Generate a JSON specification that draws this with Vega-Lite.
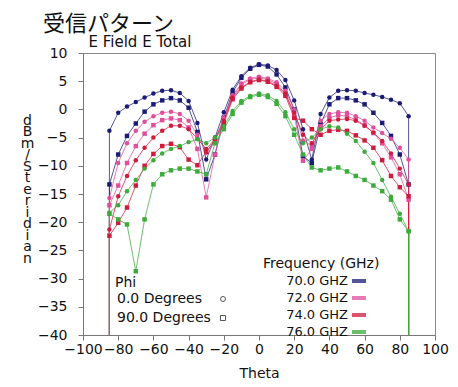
{
  "$schema": "https://vega.github.io/schema/vega-lite/v6.json",
  "width": 352,
  "height": 282,
  "autosize": {"type": "none"},
  "padding": {"left": 83, "top": 53, "right": 23, "bottom": 52},
  "background": "white",
  "title": {
    "text": "受信パターン",
    "anchor": "start",
    "frame": "group",
    "dx": -40,
    "dy": 2,
    "offset": 0,
    "font": "Noto Sans CJK JP",
    "fontSize": 22,
    "fontWeight": "normal",
    "color": "#111"
  },
  "data": {
    "values": [
      {"n": 0, "t": -85, "b0": -60, "b9": -60, "p0": -60, "p9": -60, "r0": -60, "r9": -60, "g0": -60, "g9": -60},
      {"n": 1, "t": -85, "b0": -3.8, "b9": -13.3, "p0": -15.7, "p9": -17.0, "r0": -21.3, "r9": -22.4, "g0": -18.3, "g9": -18.5},
      {"n": 2, "t": -80, "b0": -0.6, "b9": -8.0, "p0": -9.5, "p9": -13.5, "r0": -15.4, "r9": -20.1, "g0": -17.0, "g9": -19.5},
      {"n": 3, "t": -75, "b0": 0.5, "b9": -4.7, "p0": -6.0, "p9": -9.5, "r0": -11.8, "r9": -17.4, "g0": -14.5, "g9": -20.4},
      {"n": 4, "t": -70, "b0": 1.3, "b9": -2.5, "p0": -3.8, "p9": -6.5, "r0": -9.0, "r9": -13.5, "g0": -12.5, "g9": -28.7},
      {"n": 5, "t": -65, "b0": 2.1, "b9": -0.4, "p0": -2.2, "p9": -4.3, "r0": -6.8, "r9": -10.0, "g0": -10.5, "g9": -19.5},
      {"n": 6, "t": -60, "b0": 2.8, "b9": 0.9, "p0": -1.2, "p9": -2.8, "r0": -5.0, "r9": -7.9, "g0": -9.0, "g9": -13.3},
      {"n": 7, "t": -55, "b0": 3.3, "b9": 1.6, "p0": -0.6, "p9": -1.9, "r0": -3.8, "r9": -6.5, "g0": -7.8, "g9": -11.5},
      {"n": 8, "t": -50, "b0": 3.4, "b9": 2.0, "p0": -0.4, "p9": -1.6, "r0": -2.9, "r9": -6.1, "g0": -7.0, "g9": -10.8},
      {"n": 9, "t": -45, "b0": 2.9, "b9": 1.6, "p0": -0.8, "p9": -1.9, "r0": -2.9, "r9": -6.7, "g0": -6.5, "g9": -10.5},
      {"n": 10, "t": -40, "b0": 1.5, "b9": 0.3, "p0": -2.0, "p9": -3.2, "r0": -3.5, "r9": -8.9, "g0": -5.8, "g9": -10.5},
      {"n": 11, "t": -35, "b0": -2.4, "b9": -4.0, "p0": -4.5, "p9": -7.0, "r0": -5.2, "r9": -9.9, "g0": -5.3, "g9": -11.0},
      {"n": 12, "t": -30, "b0": -8.9, "b9": -12.4, "p0": -7.7, "p9": -15.6, "r0": -7.0, "r9": -7.5, "g0": -6.0, "g9": -11.5},
      {"n": 13, "t": -25, "b0": -5.0, "b9": -8.0, "p0": -5.5, "p9": -8.0, "r0": -5.3, "r9": -5.5, "g0": -5.0, "g9": -6.0},
      {"n": 14, "t": -20, "b0": -0.5, "b9": -1.5, "p0": -1.5, "p9": -2.0, "r0": -2.0, "r9": -2.5, "g0": -3.0, "g9": -3.5},
      {"n": 15, "t": -15, "b0": 3.5, "b9": 3.0, "p0": 2.5, "p9": 2.2, "r0": 2.1, "r9": 1.8, "g0": -0.3, "g9": -0.8},
      {"n": 16, "t": -10, "b0": 5.9, "b9": 5.6, "p0": 4.6, "p9": 4.4, "r0": 3.9, "r9": 3.7, "g0": 1.5, "g9": 1.2},
      {"n": 17, "t": -5, "b0": 7.4, "b9": 7.2, "p0": 5.5, "p9": 5.3, "r0": 4.9, "r9": 4.8, "g0": 2.4, "g9": 2.2},
      {"n": 18, "t": 0, "b0": 8.0, "b9": 7.9, "p0": 5.8, "p9": 5.6, "r0": 5.3, "r9": 5.2, "g0": 2.8, "g9": 2.6},
      {"n": 19, "t": 5, "b0": 7.8, "b9": 7.6, "p0": 5.5, "p9": 5.3, "r0": 5.0, "r9": 4.9, "g0": 2.5, "g9": 2.2},
      {"n": 20, "t": 10, "b0": 7.0, "b9": 6.2, "p0": 4.8, "p9": 4.5, "r0": 4.2, "r9": 4.0, "g0": 1.5, "g9": 1.0},
      {"n": 21, "t": 15, "b0": 5.2, "b9": 3.9, "p0": 3.3, "p9": 2.8, "r0": 2.8, "r9": 2.4, "g0": -0.5, "g9": -1.2},
      {"n": 22, "t": 20, "b0": 1.6, "b9": 0.0, "p0": 0.0, "p9": -1.0, "r0": -0.6, "r9": -1.5, "g0": -3.5, "g9": -4.5},
      {"n": 23, "t": 25, "b0": -3.5, "b9": -8.3, "p0": -5.5, "p9": -9.1, "r0": -4.5, "r9": -2.0, "g0": -6.0, "g9": -8.0},
      {"n": 24, "t": 30, "b0": -8.9, "b9": -9.5, "p0": -6.5, "p9": -7.0, "r0": -6.0, "r9": -3.5, "g0": -5.0, "g9": -10.3},
      {"n": 25, "t": 35, "b0": -0.8, "b9": -2.6, "p0": -2.0, "p9": -3.0, "r0": -3.5, "r9": -4.5, "g0": -3.5, "g9": -10.8},
      {"n": 26, "t": 40, "b0": 2.1, "b9": 0.9, "p0": -0.8, "p9": -1.5, "r0": -2.0, "r9": -3.8, "g0": -3.0, "g9": -10.5},
      {"n": 27, "t": 45, "b0": 3.3, "b9": 2.0, "p0": -0.5, "p9": -1.0, "r0": -1.8, "r9": -3.6, "g0": -3.2, "g9": -10.3},
      {"n": 28, "t": 50, "b0": 3.4, "b9": 2.0, "p0": -0.6, "p9": -1.2, "r0": -1.7, "r9": -3.8, "g0": -4.3, "g9": -11.0},
      {"n": 29, "t": 55, "b0": 3.3, "b9": 1.6, "p0": -1.2, "p9": -1.8, "r0": -2.0, "r9": -4.6, "g0": -5.6, "g9": -11.8},
      {"n": 30, "t": 60, "b0": 2.9, "b9": 0.9, "p0": -2.0, "p9": -2.8, "r0": -2.9, "r9": -5.5, "g0": -7.5, "g9": -12.5},
      {"n": 31, "t": 65, "b0": 2.6, "b9": -0.6, "p0": -3.2, "p9": -4.2, "r0": -4.1, "r9": -6.8, "g0": -9.5, "g9": -13.5},
      {"n": 32, "t": 70, "b0": 2.2, "b9": -2.4, "p0": -4.2, "p9": -6.0, "r0": -5.6, "r9": -9.0, "g0": -12.5, "g9": -14.5},
      {"n": 33, "t": 75, "b0": 1.7, "b9": -4.7, "p0": -5.2, "p9": -8.5, "r0": -7.8, "r9": -11.8, "g0": -15.5, "g9": -16.0},
      {"n": 34, "t": 80, "b0": 1.1, "b9": -8.0, "p0": -6.8, "p9": -11.5, "r0": -10.5, "r9": -13.8, "g0": -18.5, "g9": -19.5},
      {"n": 35, "t": 85, "b0": -1.2, "b9": -13.3, "p0": -8.9, "p9": -16.0, "r0": -13.3, "r9": -15.4, "g0": -21.6, "g9": -21.6},
      {"n": 36, "t": 85, "b0": -60, "b9": -60, "p0": -60, "p9": -60, "r0": -60, "r9": -60, "g0": -60, "g9": -60}
    ]
  },
  "transform": [
    {"fold": ["b0", "b9", "p0", "p9", "r0", "r9", "g0", "g9"], "as": ["k", "v"]},
    {
      "lookup": "k",
      "from": {
        "data": {
          "values": [
            {"k": "b0", "f": "70.0 GHZ", "p": "0.0 Degrees"},
            {"k": "b9", "f": "70.0 GHZ", "p": "90.0 Degrees"},
            {"k": "p0", "f": "72.0 GHZ", "p": "0.0 Degrees"},
            {"k": "p9", "f": "72.0 GHZ", "p": "90.0 Degrees"},
            {"k": "r0", "f": "74.0 GHZ", "p": "0.0 Degrees"},
            {"k": "r9", "f": "74.0 GHZ", "p": "90.0 Degrees"},
            {"k": "g0", "f": "76.0 GHZ", "p": "0.0 Degrees"},
            {"k": "g9", "f": "76.0 GHZ", "p": "90.0 Degrees"}
          ]
        },
        "key": "k",
        "fields": ["f", "p"]
      }
    }
  ],
  "layer": [
    {
      "mark": {"type": "line", "clip": true, "strokeWidth": 1, "opacity": 0.75},
      "encoding": {
        "x": {
          "field": "t", "type": "quantitative",
          "scale": {"domain": [-100, 100], "nice": false},
          "axis": {
            "orient": "bottom",
            "values": [-100, -80, -60, -40, -20, 0, 20, 40, 60, 80, 100],
            "title": "Theta",
            "titlePadding": 10,
            "labelPadding": 2
          }
        },
        "y": {
          "field": "v", "type": "quantitative",
          "scale": {"domain": [-40, 10], "nice": false},
          "axis": {
            "values": [-40, -35, -30, -25, -20, -15, -10, -5, 0, 5, 10],
            "title": ["d", "B", "m", "/", "S", "t", "e", "r", "i", "d", "i", "a", "n"],
            "titleAngle": 0,
            "titleAlign": "center",
            "titleBaseline": "top",
            "titleLineHeight": 11.5,
            "titleX": -56,
            "titleY": 60,
            "labelPadding": 11
          }
        },
        "color": {
          "field": "f", "type": "nominal",
          "scale": {
            "domain": ["70.0 GHZ", "72.0 GHZ", "74.0 GHZ", "76.0 GHZ"],
            "range": ["#1c1c78", "#e0509a", "#d01c3c", "#3cab3c"]
          },
          "legend": {
            "title": "Frequency (GHz)",
            "orient": "none",
            "legendX": 180,
            "legendY": 204,
            "symbolType": "stroke",
            "symbolStrokeWidth": 4,
            "symbolSize": 196,
            "symbolOffset": 87,
            "labelAlign": "right",
            "labelOffset": -20,
            "labelFontSize": 13,
            "titleFontSize": 14,
            "titlePadding": 1
          }
        },
        "detail": {"field": "k"},
        "order": {"field": "n", "type": "quantitative"}
      }
    },
    {
      "mark": {"type": "point", "clip": true, "filled": true, "size": 20, "opacity": 1},
      "encoding": {
        "x": {
          "field": "t", "type": "quantitative",
          "scale": {"domain": [-100, 100], "nice": false},
          "axis": {
            "orient": "top",
            "labels": false,
            "ticks": false,
            "domain": false,
            "title": "E Field E Total",
            "titleFontSize": 15,
            "titleAnchor": "start",
            "titleAlign": "left",
            "titleBaseline": "bottom",
            "titleX": 5,
            "titleY": -4
          }
        },
        "y": {
          "field": "v", "type": "quantitative",
          "scale": {"domain": [-40, 10], "nice": false},
          "axis": null
        },
        "color": {
          "field": "f", "type": "nominal",
          "legend": {
            "title": "Frequency (GHz)",
            "orient": "none",
            "legendX": 180,
            "legendY": 204,
            "symbolType": "stroke",
            "symbolStrokeWidth": 4,
            "symbolSize": 196,
            "symbolOffset": 87,
            "labelAlign": "right",
            "labelOffset": -20,
            "labelFontSize": 13,
            "titleFontSize": 14,
            "titlePadding": 1
          }
        },
        "shape": {
          "field": "p", "type": "nominal",
          "scale": {"domain": ["0.0 Degrees", "90.0 Degrees"], "range": ["circle", "square"]},
          "legend": {
            "title": "Phi",
            "orient": "none",
            "legendX": 32,
            "legendY": 223,
            "symbolOffset": 101,
            "labelAlign": "left",
            "labelOffset": -113,
            "symbolSize": 25,
            "symbolFillColor": "white",
            "symbolStrokeColor": "#555",
            "symbolStrokeWidth": 1,
            "labelFontSize": 14,
            "titleFontSize": 14,
            "rowPadding": 5,
            "titlePadding": 2
          }
        }
      }
    }
  ],
  "resolve": {"axis": {"x": "independent", "y": "independent"}},
  "config": {
    "view": {"stroke": "#8a8a8a", "strokeWidth": 1},
    "font": "DejaVu Sans",
    "axis": {
      "grid": false,
      "labelFont": "DejaVu Sans",
      "titleFont": "DejaVu Sans",
      "labelFontSize": 14,
      "titleFontSize": 14,
      "titleFontWeight": "normal",
      "labelColor": "#111",
      "titleColor": "#111",
      "domainColor": "#777",
      "tickColor": "#777",
      "tickSize": 5,
      "labelFlush": false,
      "labelOverlap": false
    },
    "legend": {
      "labelFont": "DejaVu Sans",
      "titleFont": "DejaVu Sans",
      "titleFontWeight": "normal",
      "labelColor": "#111",
      "titleColor": "#111",
      "padding": 0,
      "rowPadding": -4
    }
  }
}
